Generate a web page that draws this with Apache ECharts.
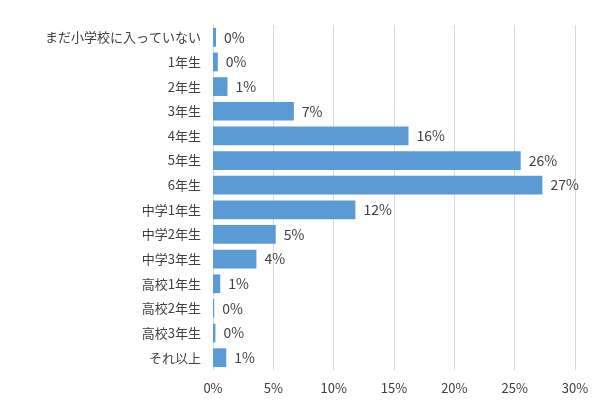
<!DOCTYPE html>
<html><head><meta charset="utf-8">
<script src="https://cdn.jsdelivr.net/npm/echarts@6/dist/echarts.min.js"></script>
<style>html,body{margin:0;padding:0;background:#fff}#chart{width:600px;height:415px}</style>
</head><body><div id="chart"></div>
<script>
var categories = ["まだ小学校に入っていない","1年生","2年生","3年生","4年生","5年生","6年生","中学1年生","中学2年生","中学3年生","高校1年生","高校2年生","高校3年生","それ以上"];
var values = [0.25, 0.4, 1.2, 6.7, 16.2, 25.5, 27.3, 11.8, 5.2, 3.6, 0.6, 0.1, 0.2, 1.1];
var labels = ["0%","0%","1%","7%","16%","26%","27%","12%","5%","4%","1%","0%","0%","1%"];

var myChart = echarts.init(document.getElementById("chart"));
var font = "'Noto Sans CJK JP', sans-serif";
myChart.setOption({
  animation: false,
  grid: { left: 213, right: 25, top: 25, bottom: 45 },
  xAxis: {
    type: "value", min: 0, max: 30, interval: 5,
    axisLine: { show: false }, axisTick: { show: false },
    splitLine: { lineStyle: { color: "#d9d9d9" } },
    axisLabel: { formatter: "{value}%", color: "#404040", fontSize: 13, fontFamily: font, margin: 12 }
  },
  yAxis: {
    type: "category", inverse: true, data: categories,
    axisLine: { lineStyle: { color: "#d9d9d9" } }, axisTick: { show: false },
    axisLabel: { color: "#404040", fontSize: 13, fontFamily: font, margin: 12 }
  },
  series: [{
    type: "bar", data: values, barWidth: "76%",
    itemStyle: { color: "#5b9bd5" },
    label: {
      show: true, position: "right", distance: 8, color: "#404040", fontSize: 14, fontFamily: font,
      formatter: function (p) { return labels[p.dataIndex]; }
    }
  }]
});
</script></body></html>
